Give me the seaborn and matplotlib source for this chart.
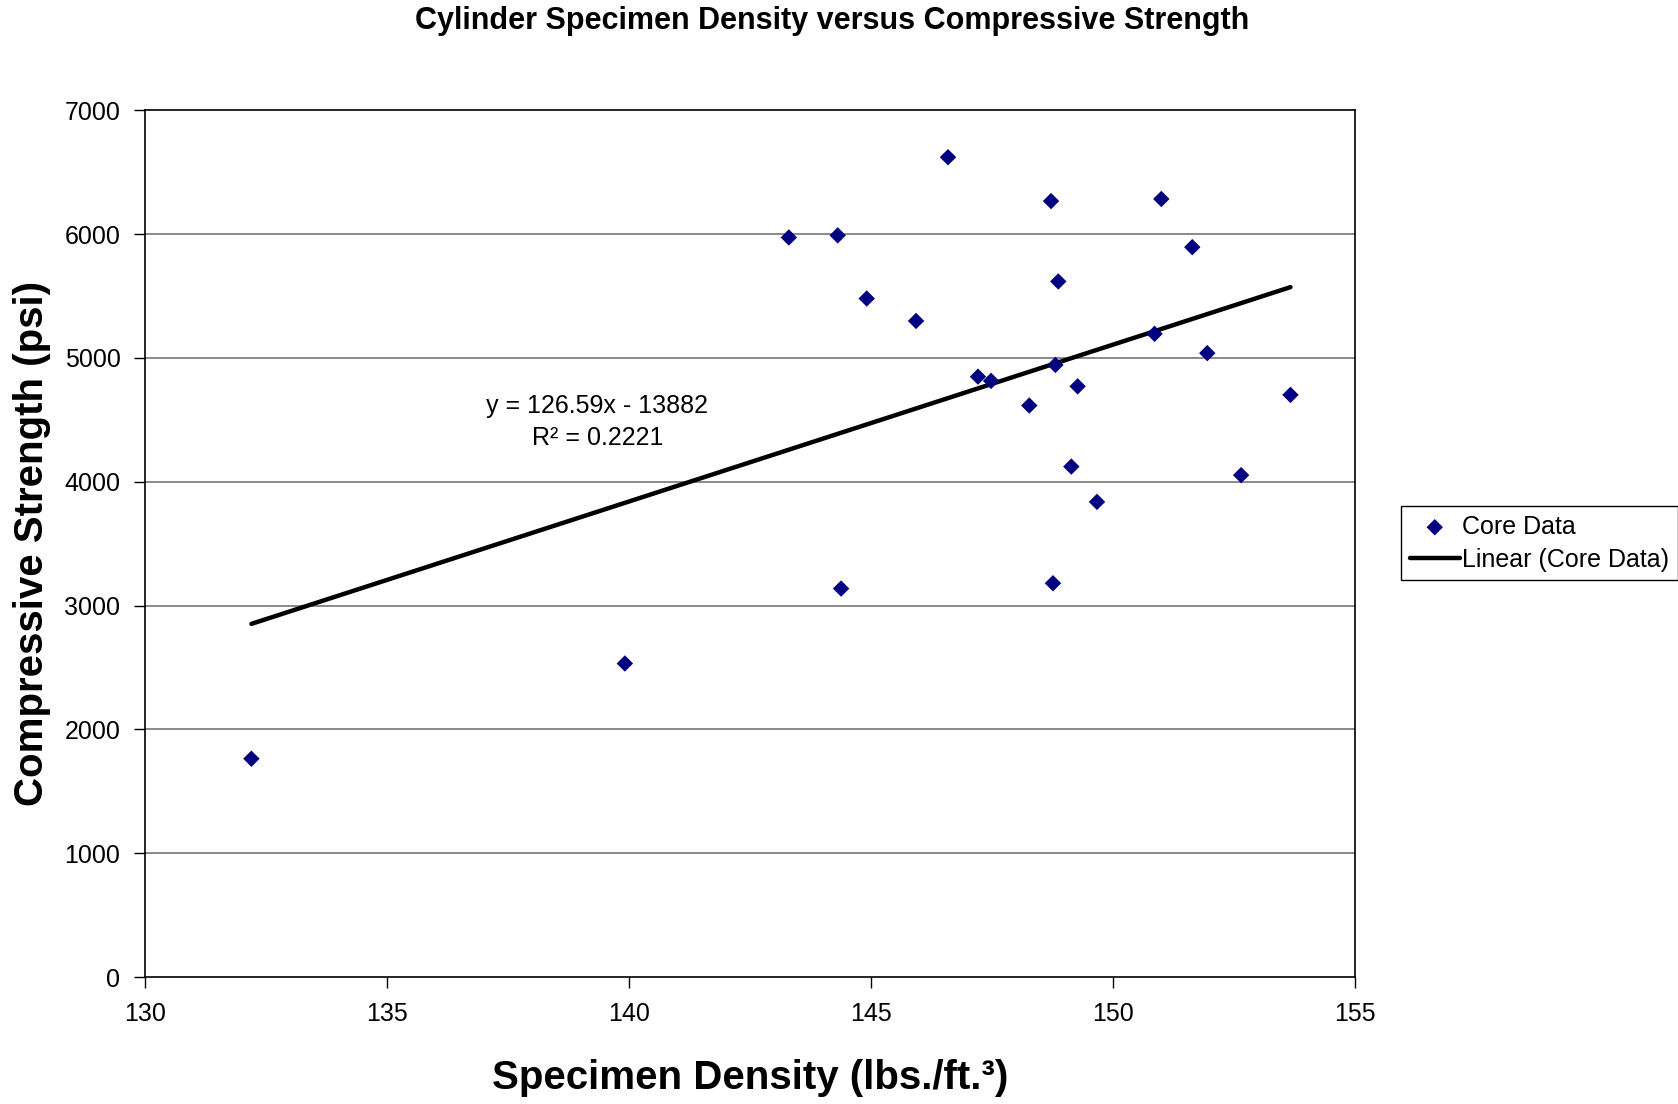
import matplotlib
matplotlib.use("Agg")
import numpy as np
import pandas as pd
import matplotlib.pyplot as plt
import seaborn as sns

# Core data (density lbs/ft^3, strength psi)
density = [132.19, 139.91, 143.30, 144.31, 144.38, 144.91, 145.93, 146.59,
           147.21, 147.48, 148.27, 148.72, 148.76, 148.81, 148.87, 149.14,
           149.27, 149.67, 150.86, 151.00, 151.64, 151.95, 152.65, 153.67]
strength = [1763, 2532, 5972, 5989, 3137, 5479, 5298, 6620,
            4848, 4814, 4615, 6266, 3180, 4943, 5617, 4122,
            4770, 3837, 5194, 6283, 5894, 5038, 4053, 4701]

# trendline as printed on the chart
slope = 126.59
intercept = -13882
r_squared = 0.2221

x_ticks = [130, 135, 140, 145, 150, 155]
y_ticks = [0, 1000, 2000, 3000, 4000, 5000, 6000, 7000]

df = pd.DataFrame({"density": density, "strength": strength})
xs = np.array([min(density), max(density)])
trend = pd.DataFrame({"density": xs, "strength": slope * xs + intercept})

sns.set_style("white")
plt.rcParams['font.family'] = ['Liberation Sans', 'DejaVu Sans']
plt.rcParams['text.color'] = 'black'

fig = plt.figure(figsize=(16.78, 11.04), dpi=100)
ax = fig.add_axes([0.0867, 0.1150, 0.8074 - 0.0867, 0.9002 - 0.1150])

for yv in y_ticks[1:-1]:
    ax.axhline(yv, color="#808080", lw=1.3, zorder=0)

sns.lineplot(data=trend, x="density", y="strength", ax=ax, color="black",
             lw=3.2, label="Linear (Core Data)", zorder=2)
sns.scatterplot(data=df, x="density", y="strength", ax=ax, marker="D",
                color="#000080", s=70, edgecolor="none", label="Core Data", zorder=3)

ax.set_xlim(130, 155)
ax.set_ylim(0, 7000)
ax.set_xticks(x_ticks)
ax.set_yticks(y_ticks)
ax.tick_params(axis="both", direction="out", length=8, width=1, colors="black",
               labelsize=18, pad=10, left=True, bottom=True)
for sp in ax.spines.values():
    sp.set_color("black")
    sp.set_linewidth(1.2)

ax.set_xlabel("")
ax.set_ylabel("")
fig.text(0.447, 0.0236, "Specimen Density (lbs./ft.³)", ha="center", va="center",
         fontsize=29, fontweight="bold")
fig.text(0.019, 0.508, "Compressive Strength (psi)", ha="center", va="center",
         rotation=90, fontsize=29, fontweight="bold")
fig.text(0.496, 0.981, "Cylinder Specimen Density versus Compressive Strength",
         ha="center", va="center", fontsize=22, fontweight="bold")

ax.text(139.34, 4480, f"y = {slope}x - {abs(intercept)}\nR² = {r_squared}",
        ha="center", va="center", fontsize=18, linespacing=1.4)

handles, labels = ax.get_legend_handles_labels()
ax.get_legend().remove()
order = [labels.index("Core Data"), labels.index("Linear (Core Data)")]
leg = fig.legend([handles[i] for i in order], [labels[i] for i in order],
                 loc="center right", bbox_to_anchor=(1.0, 0.508), fontsize=18,
                 frameon=True, fancybox=False, edgecolor="black", framealpha=1,
                 handlelength=2.0, handletextpad=0.1, borderpad=0.35,
                 labelspacing=0.35, borderaxespad=0.0)
leg.get_frame().set_linewidth(1.0)

fig.savefig("out.png", dpi=100)
